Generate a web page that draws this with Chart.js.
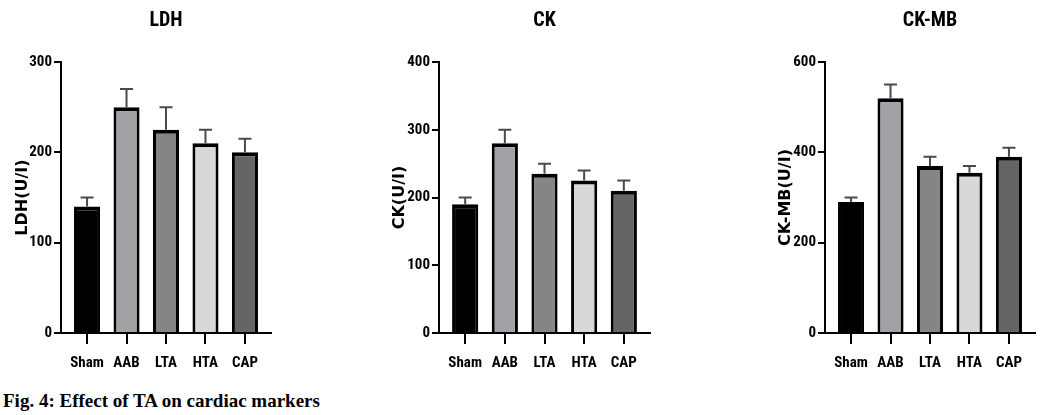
<!DOCTYPE html>
<html>
<head>
<meta charset="utf-8">
<script src="https://cdn.jsdelivr.net/npm/chart.js@4"></script>
<style>
  body { margin: 0; width: 1044px; height: 415px; background: #fff; position: relative; overflow: hidden; }
  canvas { position: absolute; top: 0; }
  #caption { position: absolute; left: 3px; top: 391px; font: bold 19px 'Liberation Serif', 'Times New Roman', serif; line-height: 19px; color: #000; white-space: nowrap; }
</style>
</head>
<body>
<canvas id="ldhChart" width="290" height="375" style="left:0px"></canvas>
<canvas id="ckChart" width="290" height="375" style="left:380px"></canvas>
<canvas id="ckmbChart" width="278" height="375" style="left:765px"></canvas>
<div id="caption">Fig. 4: Effect of TA on cardiac markers</div>
<script>
// Data (mean, upper error)
const groups = ['Sham', 'AAB', 'LTA', 'HTA', 'CAP'];

const ldhValues = [140, 250, 225, 210, 200];
const ldhErrors = [10, 20, 25, 15, 15];
const ldhTicks = [0, 100, 200, 300];

const ckValues = [190, 280, 235, 225, 210];
const ckErrors = [10, 20, 15, 15, 15];
const ckTicks = [0, 100, 200, 300, 400];

const ckmbValues = [290, 520, 370, 355, 390];
const ckmbErrors = [10, 30, 20, 15, 20];
const ckmbTicks = [0, 200, 400, 600];

// bar fills, one per group
const barColors = ['#000000', '#a2a2a6', '#858585', '#d8d8d8', '#656565'];

const narrowFont = "'Liberation Sans Narrow', 'Arial Narrow', 'Roboto Condensed', 'DejaVu Sans Condensed', 'Liberation Sans', sans-serif";

// draws the upper error bar on each bar
const errorBars = {
  id: 'errorBars',
  afterDatasetsDraw(chart) {
    let ctx = chart.ctx;
    let meta = chart.getDatasetMeta(0);
    let yScale = chart.scales.y;
    let ds = chart.data.datasets[0];
    ctx.save();
    ctx.strokeStyle = '#4a4a4a';
    ctx.lineWidth = 2;
    meta.data.forEach((bar, i) => {
      let yTop = yScale.getPixelForValue(ds.data[i].y + ds.errors[i]);
      ctx.beginPath();
      ctx.moveTo(bar.x, bar.y);
      ctx.lineTo(bar.x, yTop);
      ctx.moveTo(bar.x - 6.5, yTop);
      ctx.lineTo(bar.x + 6.5, yTop);
      ctx.stroke();
    });
    ctx.restore();
  }
};

function makeChart(id, title, yTitle, values, errors, yTicks, yWidth, yTitlePad, padRight) {
  let ctx = document.getElementById(id).getContext('2d');
  return new Chart(ctx, {
    type: 'bar',
    data: {
      datasets: [{
        data: groups.map((g, i) => ({ x: i, y: values[i] })),
        errors: errors,
        backgroundColor: barColors,
        borderColor: '#000',
        borderWidth: { top: 4, left: 3, right: 3, bottom: 0 },
        borderSkipped: false,
        barPercentage: 0.66,
        categoryPercentage: 1
      }]
    },
    options: {
      responsive: false,
      animation: false,
      devicePixelRatio: 1,
      layout: { padding: { left: 0, right: padRight, top: 0, bottom: 0 } },
      plugins: {
        legend: { display: false },
        tooltip: { enabled: false },
        title: {
          display: true,
          text: title,
          fullSize: false,
          color: '#000',
          font: { family: narrowFont, weight: 'bold', size: 20 },
          padding: { top: 9, bottom: 29 }
        }
      },
      scales: {
        x: {
          type: 'linear',
          offset: false,
          min: -0.66,
          max: 4.66,
          afterBuildTicks: s => { s.ticks = groups.map((g, i) => ({ value: i })); },
          afterFit: s => { s.height = 42; },
          ticks: {
            callback: v => groups[v],
            color: '#000',
            font: { family: narrowFont, weight: 'bold', size: 15 },
            padding: 10,
            maxRotation: 0,
            autoSkip: false
          },
          grid: { offset: false, drawOnChartArea: false, tickLength: 11, color: '#000', lineWidth: 2 },
          border: { color: '#000', width: 2 }
        },
        y: {
          min: yTicks[0],
          max: yTicks[yTicks.length - 1],
          afterBuildTicks: s => { s.ticks = yTicks.map(v => ({ value: v })); },
          afterFit: s => { s.width = yWidth; },
          ticks: {
            color: '#000',
            font: { family: narrowFont, weight: 'bold', size: 15 },
            padding: 2
          },
          grid: { drawOnChartArea: false, tickLength: 7, color: '#000', lineWidth: 2 },
          border: { color: '#000', width: 2 },
          title: {
            display: true,
            text: yTitle,
            color: '#000',
            font: { family: "'DejaVu Sans', sans-serif", weight: 'bold', size: 16 },
            padding: yTitlePad
          }
        }
      }
    },
    plugins: [errorBars]
  });
}

makeChart('ldhChart', 'LDH', 'LDH(U/I)', ldhValues, ldhErrors, ldhTicks, 61, 13, 19);
makeChart('ckChart', 'CK', 'CK(U/I)', ckValues, ckErrors, ckTicks, 59, 10, 20);
makeChart('ckmbChart', 'CK-MB', 'CK-MB(U/I)', ckmbValues, ckmbErrors, ckmbTicks, 60, 11, 8);
</script>
</body>
</html>
